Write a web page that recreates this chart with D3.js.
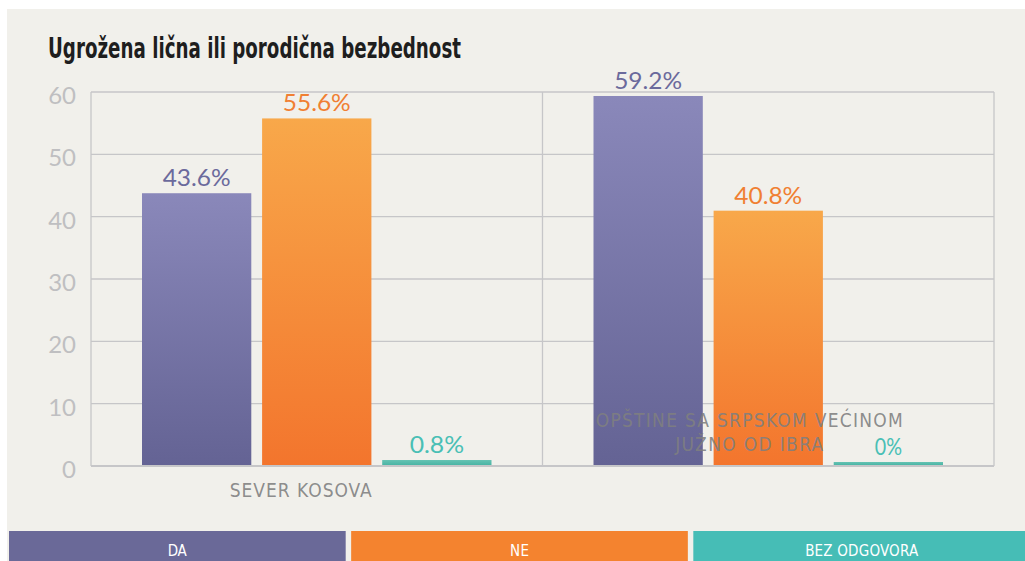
<!DOCTYPE html>
<html>
<head>
<meta charset="utf-8">
<script src="https://cdn.jsdelivr.net/npm/d3@7"></script>
<style>
  body { margin: 0; background: #fff; }
  svg { display: block; }
  .num { font-family: Lato, "Open Sans", sans-serif; }
  .cond { font-family: "DejaVu Sans Condensed", "DejaVu Sans", sans-serif; font-stretch: condensed; }
</style>
</head>
<body>
<svg id="chart" width="1025" height="561"></svg>
<script>
var title = "Ugrožena lična ili porodična bezbednost";
var groups = ["SEVER KOSOVA", "OPŠTINE SA SRPSKOM VEĆINOM\nJUŽNO OD IBRA"];
var seriesNames = ["DA", "NE", "BEZ ODGOVORA"];
var da = [43.6, 59.2];
var ne = [55.6, 40.8];
var bez = [0.8, 0];
var yTicks = [0, 10, 20, 30, 40, 50, 60];

var colorsTop = ["#8a88ba", "#f8a84a", "#66c3b3"];
var colorsBot = ["#646394", "#f3752d", "#4bb5a5"];
var labelColors = ["#6b6a9c", "#f07f32", "#49bfb5"];
var legendColors = ["#6a6998", "#f4832f", "#46bdb6"];

var svg = d3.select("#chart");
var W = 1025, H = 561;

// panel background
svg.append("rect").attr("x", 7).attr("y", 9).attr("width", W - 7).attr("height", H - 9).attr("fill", "#f1f0eb");

svg.append("text").attr("x", 48).attr("y", 58)
  .attr("class", "cond")
  .attr("font-size", 28).attr("font-weight", "bold").attr("fill", "#1e1e1e")
  .attr("textLength", 413).attr("lengthAdjust", "spacingAndGlyphs")
  .text(title);

var pL = 91, pR = 994, pT = 92, pB = 466;

var x0 = d3.scaleBand().domain(d3.range(groups.length)).range([pL, pR]);
var x1 = d3.scaleBand().domain(d3.range(3)).range([51, x0.bandwidth() - 51]).paddingInner(0.09);
var y = d3.scaleLinear().domain([0, 60]).range([pB, pT]);

var defs = svg.append("defs");
seriesNames.forEach(function(s, i) {
  var g = defs.append("linearGradient").attr("id", "g" + i).attr("x1", 0).attr("x2", 0).attr("y1", 0).attr("y2", 1);
  g.append("stop").attr("offset", "0%").attr("stop-color", colorsTop[i]);
  g.append("stop").attr("offset", "100%").attr("stop-color", colorsBot[i]);
});

// grid
svg.append("g").selectAll("line").data(yTicks).enter().append("line")
  .attr("x1", pL).attr("x2", pR)
  .attr("y1", function(d) { return y(d); }).attr("y2", function(d) { return y(d); })
  .attr("stroke", "#c6c6c8").attr("stroke-width", function(d) { return d === 0 ? 2 : 1.3; });

svg.append("g").selectAll("line").data([pL, x0(1), pR]).enter().append("line")
  .attr("x1", function(d) { return d; }).attr("x2", function(d) { return d; })
  .attr("y1", pT).attr("y2", pB)
  .attr("stroke", "#c6c6c8").attr("stroke-width", 1.3);

svg.append("g").selectAll("text").data(yTicks).enter().append("text")
  .attr("class", "num")
  .attr("x", 76).attr("y", function(d) { return y(d) + 12; })
  .attr("text-anchor", "end").attr("font-size", 24).attr("fill", "#bfbfc1")
  .text(function(d) { return d; });

var series = [da, ne, bez];
var bars = [];
groups.forEach(function(g, gi) {
  series.forEach(function(vals, si) {
    bars.push({ g: gi, s: si, v: vals[gi] });
  });
});

svg.append("g").selectAll("rect").data(bars).enter().append("rect")
  .attr("x", function(d) { return x0(d.g) + x1(d.s); })
  .attr("width", x1.bandwidth())
  .attr("y", function(d) { return Math.min(y(d.v), pB - 3) - 1; })
  .attr("height", function(d) { return Math.max(pB - y(d.v), 3); })
  .attr("fill", function(d) { return "url(#g" + d.s + ")"; });

svg.append("g").selectAll("text").data(bars).enter().append("text")
  .attr("class", "num")
  .attr("x", function(d) { return x0(d.g) + x1(d.s) + x1.bandwidth() / 2 - (d.v + "%").length * 6.8; })
  .attr("y", function(d) { return Math.min(y(d.v), pB - 3) - 8; })
  .attr("font-size", 24)
  .attr("textLength", function(d) { return (d.v + "%").length * 13.6; })
  .attr("lengthAdjust", "spacingAndGlyphs")
  .attr("fill", function(d) { return labelColors[d.s]; })
  .text(function(d) { return d.v + "%"; });

// category labels
var catY = [497, 427];
var catW = [[142], [307, 148]];
var catShift = [-16, -19];
groups.forEach(function(g, gi) {
  var cx = x0(gi) + x0.bandwidth() / 2 + catShift[gi];
  g.split("\n").forEach(function(l, li) {
    svg.append("text").attr("class", "cond")
      .attr("x", cx - catW[gi][li] / 2).attr("y", catY[gi] + li * 24)
      .attr("font-size", 19)
      .attr("textLength", catW[gi][li]).attr("lengthAdjust", "spacing")
      .attr("fill", "#7f7f80").attr("fill-opacity", 0.9)
      .text(l);
  });
});

// legend
var legW = [19, 19, 113];
var legX = d3.scaleBand().domain(seriesNames).range([9, W + 5]).paddingInner(0.016);
var leg = svg.append("g").selectAll("g").data(seriesNames).enter().append("g");
leg.append("rect")
  .attr("x", function(d) { return legX(d); }).attr("y", 531)
  .attr("width", legX.bandwidth()).attr("height", 30)
  .attr("fill", function(d, i) { return legendColors[i]; });
leg.append("text").attr("class", "cond")
  .attr("x", function(d, i) { return legX(d) + legX.bandwidth() / 2 - legW[i] / 2; }).attr("y", 556)
  .attr("font-size", 15)
  .attr("textLength", function(d, i) { return legW[i]; }).attr("lengthAdjust", "spacing")
  .attr("fill", "#fff")
  .text(function(d) { return d; });
</script>
</body>
</html>
